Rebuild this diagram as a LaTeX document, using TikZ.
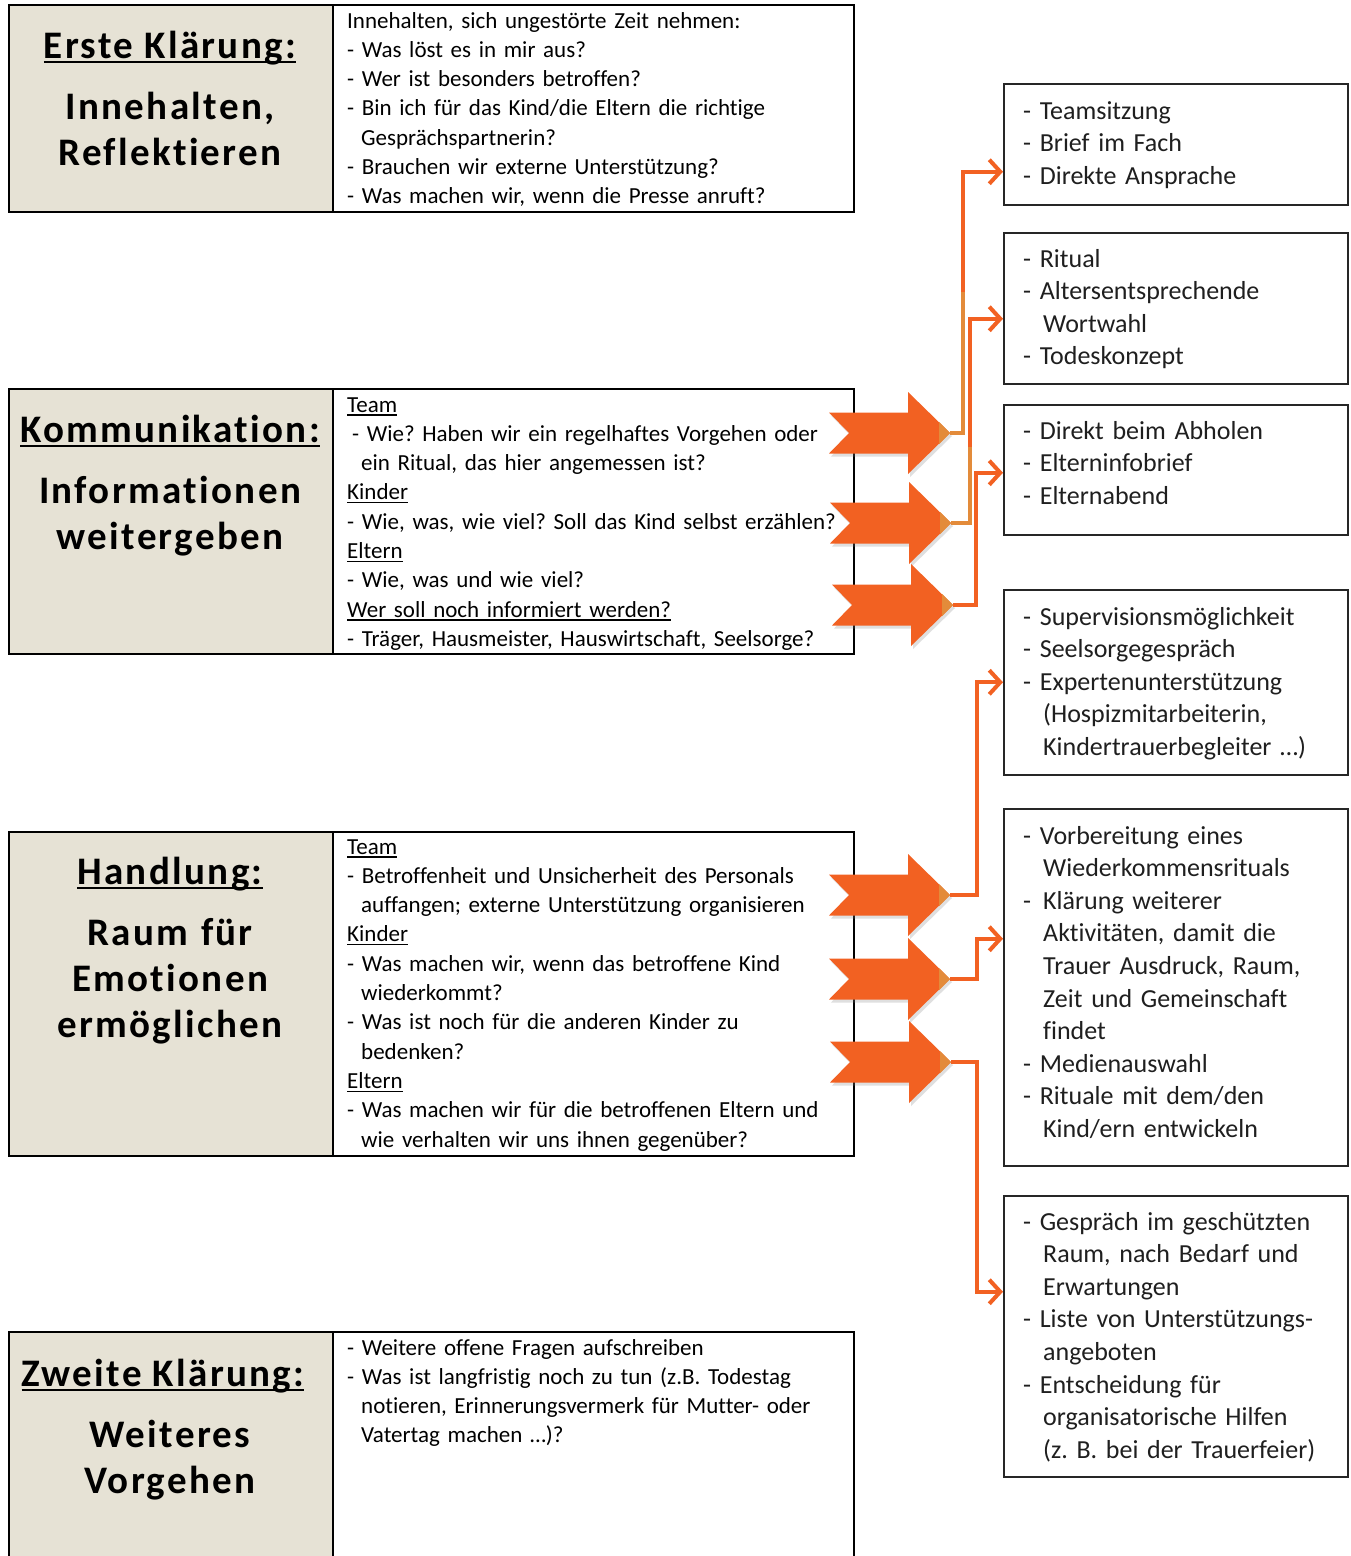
\documentclass[tikz,border=0pt]{standalone}
\usepackage{fontspec}
\setmainfont[Ligatures={NoCommon}]{Carlito}
\newfontfamily\titlefont[LetterSpace=6,Ligatures={NoCommon}]{Carlito}
\usetikzlibrary{arrows.meta,shadows,calc}
\definecolor{beige}{HTML}{E6E2D5}
\definecolor{orng}{HTML}{F26122}
\definecolor{tanc}{HTML}{E38B3A}
\frenchspacing
\newcommand\myul[2][-5pt]{\leavevmode\setbox0\hbox{#2}\rlap{\rule[#1]{\wd0}{1.6pt}}\box0}
\newcommand\hu[1]{\leavevmode\setbox0\hbox{#1}\rlap{\rule[-3.5pt]{\wd0}{1.2pt}}\box0}
\tikzset{
  lbox/.style={draw=black, line width=2pt, fill=beige, anchor=north west, inner sep=0pt, minimum width=324pt},
  wbox/.style={draw=black, line width=2pt, fill=white, anchor=north west, inner sep=0pt, minimum width=521pt},
  rbox/.style={draw=black!85, line width=1.5pt, fill=white, anchor=north west, inner sep=0pt, minimum width=344pt},
  ttl/.style={anchor=base, inner sep=0pt, font=\titlefont\bfseries\fontsize{39pt}{46pt}\selectfont},
  sub/.style={anchor=base, inner sep=0pt, text width=320pt, align=center, font=\titlefont\bfseries\fontsize{39pt}{46pt}\selectfont},
  midtext/.style={anchor=base west, inner sep=0pt, text width=500pt, align=left, font=\frenchspacing\fontsize{23pt}{29.3pt}\selectfont},
  rtext/.style={anchor=base west, inner sep=0pt, text width=320pt, align=left, text=black!88, font=\frenchspacing\fontsize{26pt}{32.6pt}\selectfont},
  conn/.style={draw=orng, line width=4pt, -{Straight Barb[length=11pt,width=24pt]}},
  tanline/.style={draw=tanc, line width=4pt},
  chev/.pic={
    \fill[orng, drop shadow={opacity=0.25, shadow xshift=2pt, shadow yshift=-3pt}]
      (-121,-20.5) -- (-101,0) -- (-121,20.5) -- (-42,20.5) -- (-42,41) -- (0,0)
      -- (-42,-41) -- (-42,-20.5) -- cycle;
    \fill[tanc] (-11,-11) -- (0,0) -- (-11,11) -- cycle;
    \coordinate (-tip) at (0,0);
  }
}
\begin{document}
\begin{tikzpicture}[x=1pt,y=-1pt]
\useasboundingbox (0,0) rectangle (1351,1556);
\fill[white] (0,0) rectangle (1351,1556);

% left boxes
\node[lbox, minimum height=207pt] (b1) at (8,4) {};
\node[wbox, minimum height=207pt] (w1) at (332,4) {};
\node[lbox, minimum height=265pt] (b2) at (8,388) {};
\node[wbox, minimum height=265pt] (w2) at (332,388) {};
\node[lbox, minimum height=324pt] (b3) at (8,831) {};
\node[wbox, minimum height=324pt] (w3) at (332,831) {};
\node[lbox, minimum height=240pt] (b4) at (8,1331) {};
\node[wbox, minimum height=240pt] (w4) at (332,1331) {};

% right boxes
\node[rbox, minimum height=121pt] (R1) at (1003,83) {};
\node[rbox, minimum height=151pt] (R2) at (1003,232) {};
\node[rbox, minimum height=130pt] (R3) at (1003,404) {};
\node[rbox, minimum height=185pt] (R4) at (1003,589) {};
\node[rbox, minimum height=357pt] (R5) at (1003,808) {};
\node[rbox, minimum height=281pt] (R6) at (1003,1195) {};

% chevron arrows
\pic (ka) at (950,433) {chev};
\pic (kb) at (951,523) {chev};
\pic (kc) at (953,605) {chev};
\pic (ha) at (950,895) {chev};
\pic (hb) at (950,979) {chev};
\pic (hc) at (951,1062) {chev};

% titles
\node[ttl] (t1) at (170,58) {\myul{Erste Klärung:}};
\node[sub] (s1) at (170,119) {Innehalten,\\Reflektieren};
\node[ttl] (t2) at (170,442) {\myul{Kommunikation:}};
\node[sub] (s2) at (170,503) {Informationen\\weitergeben};
\node[ttl] (t3) at (170,884) {\myul{Handlung:}};
\node[sub] (s3) at (170,945) {Raum für\\Emotionen\\ermöglichen};
\node[ttl] (t4) at (163,1386) {\myul{Zweite Klärung:}};
\node[sub] (s4) at (170,1447) {Weiteres\\Vorgehen};

% middle texts
\node[midtext] (m1) at (347,28) {Innehalten, sich ungestörte Zeit nehmen:\\
- Was löst es in mir aus?\\
- Wer ist besonders betroffen?\\
- Bin ich für das Kind/die Eltern die richtige\\
\hspace*{14pt}Gesprächspartnerin?\\
- Brauchen wir externe Unterstützung?\\
- Was machen wir, wenn die Presse anruft?};

\node[midtext] (m2) at (347,412) {\hu{Team}\\
\hspace*{5pt}- Wie? Haben wir ein regelhaftes Vorgehen oder\\
\hspace*{14pt}ein Ritual, das hier angemessen ist?\\
\hu{Kinder}\\
- Wie, was, wie viel? Soll das Kind selbst erzählen?\\
\hu{Eltern}\\
- Wie, was und wie viel?\\
\hu{Wer soll noch informiert werden?}\\
- Träger, Hausmeister, Hauswirtschaft, Seelsorge?};

\node[midtext] (m3) at (347,854) {\hu{Team}\\
- Betroffenheit und Unsicherheit des Personals\\
\hspace*{14pt}auffangen; externe Unterstützung organisieren\\
\hu{Kinder}\\
- Was machen wir, wenn das betroffene Kind\\
\hspace*{14pt}wiederkommt?\\
- Was ist noch für die anderen Kinder zu\\
\hspace*{14pt}bedenken?\\
\hu{Eltern}\\
- Was machen wir für die betroffenen Eltern und\\
\hspace*{14pt}wie verhalten wir uns ihnen gegenüber?};

\node[midtext] (m4) at (347,1355) {- Weitere offene Fragen aufschreiben\\
- Was ist langfristig noch zu tun (z.B. Todestag\\
\hspace*{14pt}notieren, Erinnerungsvermerk für Mutter- oder\\
\hspace*{14pt}Vatertag machen …)?};

% right texts
\node[rtext] (r1) at (1023,119) {- Teamsitzung\\- Brief im Fach\\- Direkte Ansprache};
\node[rtext] (r2) at (1023,267) {- Ritual\\- Altersentsprechende\\\hspace*{20pt}Wortwahl\\- Todeskonzept};
\node[rtext] (r3) at (1023,439) {- Direkt beim Abholen\\- Elterninfobrief\\- Elternabend};
\node[rtext] (r4) at (1023,625) {- Supervisionsmöglichkeit\\- Seelsorgegespräch\\- Expertenunterstützung\\\hspace*{20pt}(Hospizmitarbeiterin,\\\hspace*{20pt}Kindertrauerbegleiter …)};
\node[rtext] (r5) at (1023,844) {- Vorbereitung eines\\\hspace*{20pt}Wiederkommensrituals\\\makebox[20pt][l]{-}Klärung weiterer\\\hspace*{20pt}Aktivitäten, damit die\\\hspace*{20pt}Trauer Ausdruck, Raum,\\\hspace*{20pt}Zeit und Gemeinschaft\\\hspace*{20pt}findet\\- Medienauswahl\\- Rituale mit dem/den\\\hspace*{20pt}Kind/ern entwickeln};
\node[rtext] (r6) at (1023,1230) {- Gespräch im geschützten\\\hspace*{20pt}Raum, nach Bedarf und\\\hspace*{20pt}Erwartungen\\- Liste von Unterstützungs-\\\hspace*{20pt}angeboten\\- Entscheidung für\\\hspace*{20pt}organisatorische Hilfen\\\hspace*{20pt}(z. B. bei der Trauerfeier)};

% connectors
\draw[conn] (ka-tip) -- ++(13,0) |- ([yshift=-27.5pt]R1.west);
\draw[tanline] (ka-tip) -- ++(13,0) -- ++(0,-141);
\draw[conn] (kb-tip) -- ++(19,0) |- ([yshift=-10.5pt]R2.west);
\draw[tanline] (kb-tip) -- ++(19,0) -- ++(0,-76);
\draw[conn] (kc-tip) -- ++(23,0) |- ([yshift=-3pt]R3.west);
\draw[conn] (ha-tip) -- ++(27,0) |- (R4.west);
\draw[conn] (hb-tip) -- ++(27,0) |- ([yshift=48.5pt]R5.west);
\draw[conn] (hc-tip) -- ++(26,0) |- ([yshift=44.5pt]R6.west);
\end{tikzpicture}
\end{document}
